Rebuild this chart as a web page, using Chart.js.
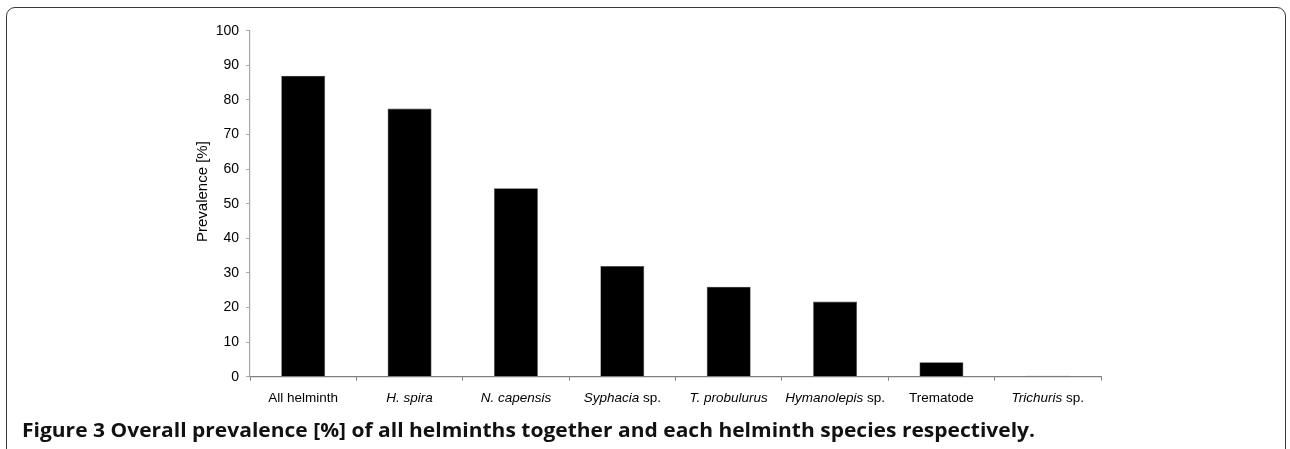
<!DOCTYPE html>
<html>
<head>
<meta charset="utf-8">
<script src="https://cdn.jsdelivr.net/npm/chart.js@4"></script>
<style>
  html, body { margin: 0; padding: 0; background: #fff; }
  #wrap { position: relative; width: 1290px; height: 449px; overflow: hidden; }
  #frame { position: absolute; left: 6px; top: 7px; width: 1280px; height: 520px;
           border: 1.6px solid #3a3a3a; border-radius: 9px 9px 0 0; box-sizing: border-box; }
  canvas { position: absolute; left: 0; top: 0; }
  #caption { position: absolute; left: 22px; top: 420px; white-space: nowrap;
             font-family: "Open Sans", sans-serif; font-weight: 700; font-size: 20px;
             color: #111; transform-origin: 0 0; line-height: 1; }
</style>
</head>
<body>
<div id="wrap">
  <div id="frame"></div>
  <canvas id="c" width="1290" height="449"></canvas>
  <div id="caption">Figure 3 Overall prevalence [%] of all helminths together and each helminth species respectively.</div>
</div>
<script>
const categories = ['All helminth', 'H. spira', 'N. capensis', 'Syphacia sp.', 'T. probulurus', 'Hymanolepis sp.', 'Trematode', 'Trichuris sp.'];
const italicParts = ['', 'H. spira', 'N. capensis', 'Syphacia', 'T. probulurus', 'Hymanolepis', '', 'Trichuris'];
const prevalence = [87, 77.5, 54.5, 32, 26, 21.7, 4.2, 0.3];
const yTicks = [0, 10, 20, 30, 40, 50, 60, 70, 80, 90, 100];
const yTitle = 'Prevalence [%]';

const FONT = '"Liberation Sans", Arial, sans-serif';

const labelPlugin = {
  id: 'mixedLabels',
  afterDraw(chart) {
    const ctx = chart.ctx;
    const xs = chart.scales.x;
    ctx.save();
    ctx.fillStyle = '#000';
    ctx.textBaseline = 'middle';
    ctx.textAlign = 'left';
    const y = xs.top + 22;
    categories.forEach((cat, i) => {
      const it = italicParts[i];
      const rest = it ? cat.slice(it.length) : cat;
      const fI = 'italic 13.5px ' + FONT;
      const fN = '13.5px ' + FONT;
      ctx.font = fI; const wI = it ? ctx.measureText(it).width : 0;
      ctx.font = fN; const wN = rest ? ctx.measureText(rest).width : 0;
      let x = xs.getPixelForValue(i) - (wI + wN) / 2;
      if (it) { ctx.font = fI; ctx.fillText(it, x, y); x += wI; }
      if (rest) { ctx.font = fN; ctx.fillText(rest, x, y); }
    });
    // y title
    const ys = chart.scales.y;
    ctx.font = '15px ' + FONT;
    ctx.textAlign = 'center';
    ctx.translate(ys.left + 13, ys.getPixelForValue(53.5));
    ctx.rotate(-Math.PI / 2);
    ctx.fillText(yTitle, 0, 0);
    ctx.restore();
  }
};

new Chart(document.getElementById('c'), {
  type: 'bar',
  data: {
    labels: categories,
    datasets: [{
      data: prevalence,
      backgroundColor: '#000',
      borderColor: '#444',
      borderWidth: 0.6,
      categoryPercentage: 1,
      barPercentage: 0.413
    }]
  },
  options: {
    responsive: false,
    animation: false,
    devicePixelRatio: 1,
    layout: { padding: { left: 190, top: 30.7, right: 189, bottom: 0 } },
    plugins: { legend: { display: false }, tooltip: { enabled: false }, title: { display: false } },
    scales: {
      x: {
        offset: true,
        afterFit(s) { s.height = 72.3; },
        ticks: { display: false },
        grid: { display: true, drawOnChartArea: false, drawTicks: true, tickLength: 4, color: '#808080', offset: true },
        border: { display: true, color: '#808080', width: 1.2 }
      },
      y: {
        min: 0, max: 100,
        afterFit(s) { s.width = 60; },
        afterBuildTicks(s) { s.ticks = yTicks.map(v => ({ value: v })); },
        ticks: { color: '#000', padding: 7, font: { family: FONT, size: 14 } },
        grid: { display: true, drawOnChartArea: false, drawTicks: true, tickLength: 4, color: '#a6a6a6' },
        border: { display: true, color: '#a6a6a6', width: 1.2 }
      }
    }
  },
  plugins: [labelPlugin]
});

// fit caption width to the figure's caption span
(function () {
  const cap = document.getElementById('caption');
  const w = cap.getBoundingClientRect().width;
  const target = 1013;
  cap.style.transform = 'scaleX(' + (target / w) + ')';
})();
</script>
</body>
</html>
